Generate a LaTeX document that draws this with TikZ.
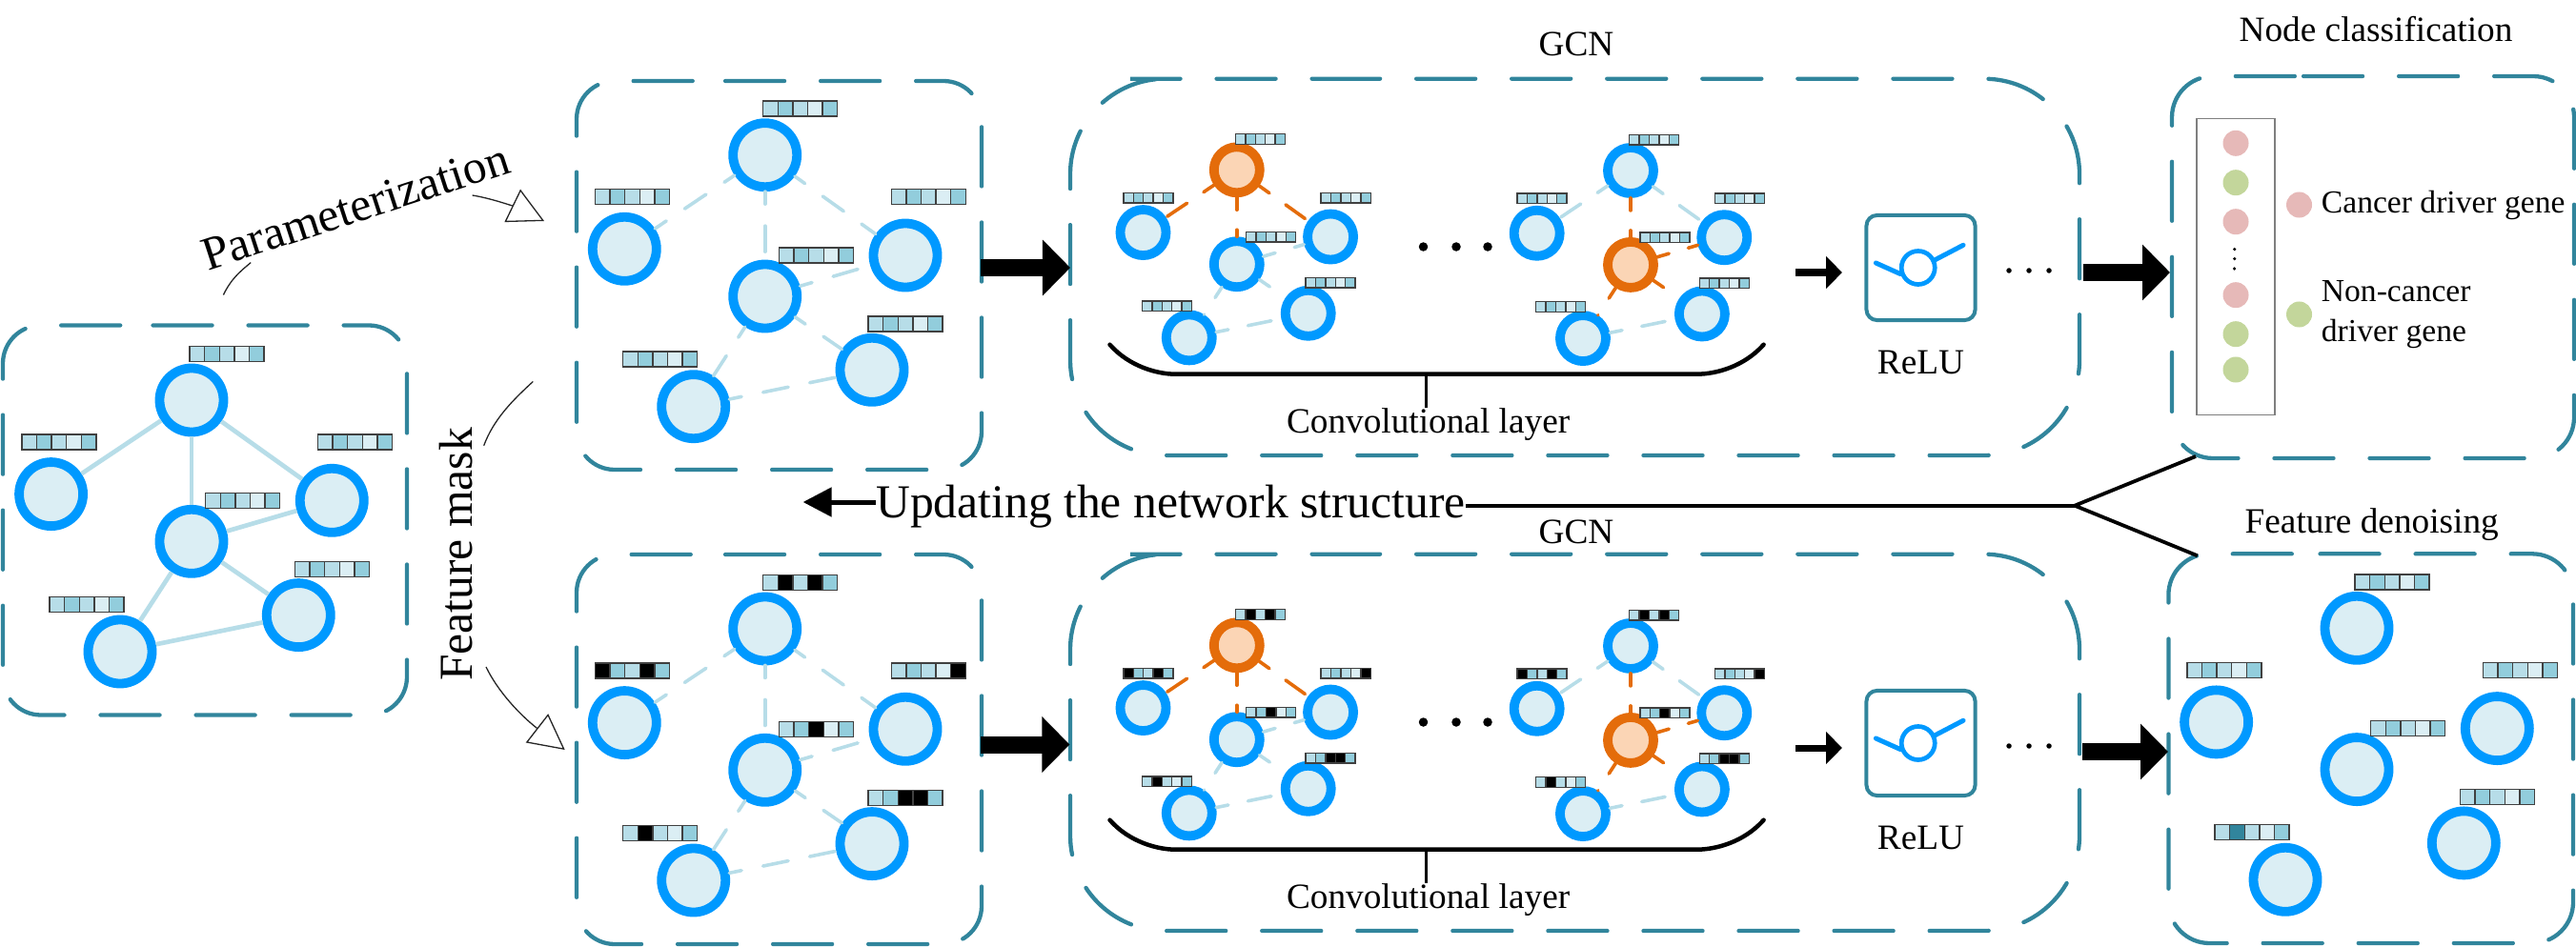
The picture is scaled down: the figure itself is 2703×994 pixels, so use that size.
\documentclass[tikz,border=0pt]{standalone}
\usepackage{fontspec}
\setmainfont{Liberation Serif}
\usepackage{tikz}
\usetikzlibrary{positioning,calc,arrows.meta}
\definecolor{cBox}{HTML}{31859C}
\definecolor{cRing}{HTML}{0099FF}
\definecolor{cFill}{HTML}{DBEEF4}
\definecolor{cOrg}{HTML}{E46C0A}
\definecolor{cOrgL}{HTML}{FBD5B5}
\definecolor{cL}{HTML}{B7DDE8}
\definecolor{cM}{HTML}{92CDDC}
\definecolor{cN}{HTML}{DBEEF4}
\definecolor{cK}{HTML}{000000}
\definecolor{cPk}{HTML}{E6B9B8}
\definecolor{cGr}{HTML}{C3D69B}
\definecolor{cGrey}{HTML}{7F7F7F}
\tikzset{
  dbox/.style={draw=cBox,line width=0.043cm,line cap=round,dash pattern=on 0.62cm off 0.38cm},
  gn/.style={circle,draw=cRing,fill=cFill,line width=0.098cm,minimum size=0.67cm,inner sep=0pt},
  gs/.style={circle,draw=cRing,fill=cFill,line width=0.098cm,minimum size=0.48cm,inner sep=0pt},
  go/.style={circle,draw=cOrg,fill=cOrgL,line width=0.098cm,minimum size=0.48cm,inner sep=0pt},
  fcell/.style={draw=black!75,line width=0.014cm},
  esolid/.style={draw=cL,line width=0.047cm},
  edash/.style={draw=cL,line width=0.036cm,line cap=round,dash pattern=on 0.27cm off 0.23cm,dash phase=0.14cm},
  esmall/.style={draw=cL,line width=0.036cm,line cap=round,dash pattern=on 0.25cm off 0.21cm,dash phase=0.12cm},
  eorg/.style={draw=cOrg,line width=0.036cm,line cap=round,dash pattern=on 0.25cm off 0.21cm,dash phase=0.12cm},
  barrow/.style={-{Triangle[length=0.29cm,width=0.57cm]},line width=0.18cm,draw=black},
  sarrow/.style={-{Triangle[length=0.17cm,width=0.33cm]},line width=0.07cm,draw=black},
  farrow/.style={-{Triangle[open,fill=white,length=0.37cm,width=0.38cm]},draw=black!85,line width=0.013cm},
  thinl/.style={draw=black!85,line width=0.013cm},
  fork/.style={draw=black,line width=0.038cm},
  brk/.style={draw=black,line width=0.045cm,line cap=round},
  stem/.style={draw=black,line width=0.028cm},
  lab/.style={font=\fontsize{10.6}{12}\selectfont,inner sep=0pt},
  leg/.style={font=\fontsize{9.55}{11.8}\selectfont,inner sep=0pt,align=left},
  biglab/.style={font=\fontsize{14.1}{16}\selectfont,inner sep=0pt},
  dotk/.style={circle,fill=black,inner sep=0pt},
  cdot/.style={circle,minimum size=0.27cm,inner sep=0pt},
  relub/.style={draw=cBox,fill=white,line width=0.04cm,rounded corners=0.11cm,minimum width=1.14cm,minimum height=1.10cm,inner sep=0pt},
  relus/.style={circle,draw=cRing,fill=white,line width=0.047cm,minimum size=0.35cm,inner sep=0pt},
  relul/.style={draw=cRing,line width=0.05cm,line cap=round},
}
\def\fbase{cL,cM,cL,cN,cM}
\def\fden{cL,cBox,cL,cN,cM}
\def\mA{cL,cK,cL,cK,cM}
\def\mB{cK,cM,cL,cK,cM}
\def\mC{cL,cM,cL,cN,cK}
\def\mD{cL,cM,cK,cN,cM}
\def\mE{cL,cM,cK,cK,cM}
\def\mF{cL,cK,cL,cN,cM}
\newcommand{\dbx}[6]{\draw[dbox,rounded corners=#5] (#6,#2) -- (#3,#2) -- (#3,#4) -- (#1,#4) -- (#1,#2) -- cycle;}
\newcommand{\fbar}[3]{\foreach \cc [count=\i] in #3 \draw[fcell,fill=\cc] ({#1+15.6*(\i-1)},#2) rectangle ++(15.6,16);}
\newcommand{\netnodes}[3]{
  \node[#2] (a) at (0,0) {};
  \node[#1] (b) at (-147.4,98.6) {};
  \node[#1] (c) at (147.3,105.3) {};
  \node[#3] (d) at (0,148.3) {};
  \node[#1] (e) at (112.3,225.6) {};
  \node[#1] (f) at (-75,264) {};
}
\newcommand{\netbars}[6]{
  \fbar{-2}{-56.5}{#1}
  \fbar{-178.2}{36}{#2}
  \fbar{132.5}{36}{#3}
  \fbar{14.7}{97.4}{#4}
  \fbar{108.4}{169.4}{#5}
  \fbar{-149}{206.4}{#6}
}
\newcommand{\gcnpart}[8]{
  \begin{scope}[name prefix=#1-,shift={(0,#2)}]
    \dbx{1123}{82.7}{2182}{478}{1cm}{1286}
    \begin{scope}[name prefix=#1-u-,shift={(1297.8,178.3)},scale=0.667]
      \netnodes{gs}{go}{gs}
      \netbars{#3}{#4}{#5}{#6}{#7}{#8}
      \foreach \a/\b in {a/b,a/d,a/c}
        \draw[eorg] (\a)--(\b);
      \foreach \a/\b in {d/c,d/e,d/f,f/e}
        \draw[esmall] (\a)--(\b);
    \end{scope}
    \begin{scope}[name prefix=#1-v-,shift={(1711,179)},scale=0.667]
      \netnodes{gs}{gs}{go}
      \netbars{#3}{#4}{#5}{#6}{#7}{#8}
      \foreach \a/\b in {a/d,d/c,d/e,d/f}
        \draw[eorg] (\a)--(\b);
      \foreach \a/\b in {a/b,a/c,f/e}
        \draw[esmall] (\a)--(\b);
    \end{scope}
    \begin{scope}[name prefix=#1-]
      \foreach \x [count=\k] in {1493.5,1528,1561}
        \node[dotk,minimum size=0.095cm] (dl\k) at (\x,259) {};
      \foreach \x [count=\k] in {2108,2129,2150}
        \node[dotk,minimum size=0.055cm] (dr\k) at (\x,284) {};
      \draw[brk] (1164.5,361.7) .. controls (1185,385) and (1215,392.7) .. (1233.3,392.7) -- (1780.5,392.7) .. controls (1800,392.7) and (1830,385) .. (1850.6,361.7);
      \node[lab] (cv) at (1498.6,446) {Convolutional layer};
      \coordinate (st) at (1496.4,393);
      \draw[stem] (st) -- (st|-cv.north);
      \coordinate (aw) at (1884,286);
      \coordinate (ae) at (1933,286);
      \draw[sarrow] (aw) -- (ae);
      \node[relub] (rb) at (2015.5,281) {};
      \node[relus] (rs) at (2012.7,281) {};
      \coordinate (rl) at (1968.3,276);
      \coordinate (rr) at (2060,257.3);
      \draw[relul] (rl) -- (rs.199);
      \draw[relul] (rs.25) -- (rr);
      \node[lab] (rt) at (2015.5,380) {ReLU};
    \end{scope}
  \end{scope}
}
\begin{document}
\begin{tikzpicture}[x=0.01cm,y=-0.01cm]
  \useasboundingbox (0,0) rectangle (2703,994);
  \dbx{3}{341.5}{427}{750.5}{0.4cm}{120.5}
  \dbx{605}{85}{1030}{493}{0.4cm}{721}
  \dbx{605}{582}{1030}{991}{0.4cm}{721}
  \dbx{2279}{80}{2701}{481}{0.43cm}{2374}
  \dbx{2275.4}{581.3}{2700}{990}{0.43cm}{2391.5}
  \begin{scope}[name prefix=s-,shift={(201,420)}]
    \netnodes{gn}{gn}{gn}
    \netbars{\fbase}{\fbase}{\fbase}{\fbase}{\fbase}{\fbase}
    \foreach \a/\b in {a/b,a/c,a/d,d/c,d/e,d/f,f/e}
      \draw[esolid] (\a)--(\b);
  \end{scope}
  \begin{scope}[name prefix=p-,shift={(802.7,162.7)}]
    \netnodes{gn}{gn}{gn}
    \netbars{\fbase}{\fbase}{\fbase}{\fbase}{\fbase}{\fbase}
    \foreach \a/\b in {a/b,a/c,a/d,d/c,d/e,d/f,f/e}
      \draw[edash] (\a)--(\b);
  \end{scope}
  \begin{scope}[name prefix=m-,shift={(802.7,660)}]
    \netnodes{gn}{gn}{gn}
    \netbars{\mA}{\mB}{\mC}{\mD}{\mE}{\mF}
    \foreach \a/\b in {a/b,a/c,a/d,d/c,d/e,d/f,f/e}
      \draw[edash] (\a)--(\b);
  \end{scope}
  \begin{scope}[name prefix=o-,shift={(2473,659.3)}]
    \netnodes{gn}{gn}{gn}
    \netbars{\fbase}{\fbase}{\fbase}{\fbase}{\fbase}{\fden}
  \end{scope}
  \gcnpart{g}{0}{\fbase}{\fbase}{\fbase}{\fbase}{\fbase}{\fbase}
  \gcnpart{h}{499}{\mA}{\mB}{\mC}{\mD}{\mE}{\mF}
  \node[lab] (gcnA) at (1654,46.7) {GCN};
  \node[lab] (gcnB) at (1654,558.7) {GCN};
  \node[lab] (nc) at (2493,31) {Node classification};
  \node[lab] (fd) at (2488.7,550.8) {Feature denoising};
  \draw[draw=cGrey,line width=0.015cm] (2305,124.3) rectangle (2386.8,435.7);
  \foreach \y/\c [count=\k] in {150.3/cPk,191.7/cGr,232.7/cPk,309.7/cPk,350.7/cGr,388/cGr}
    \node[cdot,fill=\c] (c\k) at (2346,\y) {};
  \foreach \y [count=\k] in {261.7,271.7,282}
    \node[dotk,minimum size=0.035cm] (v\k) at (2344.7,\y) {};
  \node[cdot,fill=cPk] (lgA) at (2412.5,215) {};
  \node[cdot,fill=cGr] (lgB) at (2412.5,330) {};
  \node[leg,right=0.085cm of lgA] (tA) {Cancer driver gene};
  \node[leg,right=0.085cm of lgB] (tB) {Non-cancer\\driver gene};
  \coordinate (bA) at (1029,281);
  \coordinate (bB) at (1123,281);
  \coordinate (bC) at (1029,781.5);
  \coordinate (bD) at (1122.4,781.5);
  \coordinate (bE) at (2186,286);
  \coordinate (bF) at (2277,286);
  \coordinate (bG) at (2185,789);
  \coordinate (bH) at (2275,789);
  \foreach \a/\b in {bA/bB,bC/bD,bE/bF,bG/bH}
    \draw[barrow] (\a)--(\b);
  \node[biglab] (upd) at (1228.5,531.5) {Updating the network structure};
  \coordinate (tip) at (842.6,527);
  \draw[-{Triangle[length=0.30cm,width=0.30cm]},draw=black,line width=0.05cm] (upd.west|-tip) -- (tip);
  \coordinate (fk) at (2177,530.7);
  \coordinate (fa) at (2304,479);
  \coordinate (fb) at (2305.8,583.3);
  \draw[fork] (upd.east|-fk) -- (fk);
  \draw[fork] (fa) -- (fk) -- (fb);
  \node[biglab,rotate=18] (par) at (373,217) {Parameterization};
  \node[biglab,rotate=90] (fm) at (479,582) {Feature mask};
  \coordinate (pa) at (234.4,309.5);
  \coordinate (pb) at (263.2,275.6);
  \coordinate (pc) at (495.6,205);
  \coordinate (pd) at (571,232);
  \draw[thinl] (pa) .. controls (243,292) and (252,285) .. (pb);
  \draw[farrow] (pc) .. controls (515,208) and (540,217) .. (pd);
  \coordinate (ma) at (507.7,467.7);
  \coordinate (mb) at (559.3,400.5);
  \coordinate (mc) at (510,700);
  \coordinate (md) at (592.7,787);
  \draw[thinl] (ma) .. controls (518,440) and (538,420) .. (mb);
  \draw[farrow] (mc) .. controls (522,725) and (545,750) .. (md);
\end{tikzpicture}
\end{document}
